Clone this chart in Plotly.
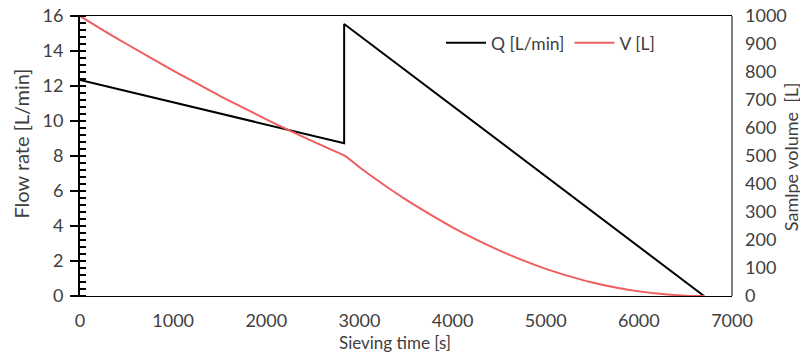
import plotly.graph_objects as go

# Flow rate Q [L/min]
q_time = [0, 2836, 2836, 6700]
q_flow = [12.34, 8.73, 15.54, 0]

# Sample volume V [L]
v_time = [0, 250, 500, 750, 1000, 1250, 1500, 1750, 2000, 2250, 2500, 2750, 2836,
          3000, 3250, 3500, 3750, 4000, 4250, 4500, 4750, 5000, 5250, 5500, 5750,
          6000, 6250, 6500, 6700]
v_vol = [1000, 949, 900, 852, 805, 760, 715, 673, 631, 591, 552, 515, 502,
         460, 400, 344, 293, 245, 202, 163, 128, 97, 71, 48, 30,
         16.5, 6.8, 1.3, 0]

x_ticks = [0, 1000, 2000, 3000, 4000, 5000, 6000, 7000]
y_ticks = [0, 2, 4, 6, 8, 10, 12, 14, 16]
y2_ticks = [0, 100, 200, 300, 400, 500, 600, 700, 800, 900, 1000]

FONT = "Lato"
TXT = "#404040"

fig = go.Figure()
fig.add_trace(go.Scatter(x=q_time, y=q_flow, mode="lines", name="Q [L/min]",
                         line=dict(color="#000000", width=2)))
fig.add_trace(go.Scatter(x=v_time, y=v_vol, mode="lines", name="V [L]", yaxis="y2",
                         line=dict(color="#EE5E5E", width=2, shape="spline")))

# the page body adds an 8 px offset; keep the page inside the window
fig.update_layout(
    width=792, height=344,
    margin=dict(l=72, r=68, t=8, b=56),
    paper_bgcolor="white", plot_bgcolor="white",
    font=dict(family=FONT, size=18, color=TXT),
    showlegend=True,
    legend=dict(orientation="h", x=0.5537, y=0.9036, xanchor="left", yanchor="middle",
                bgcolor="rgba(0,0,0,0)", font=dict(size=17.5, color=TXT),
                itemwidth=40, tracegroupgap=0),
    xaxis=dict(range=[0, 7000], tickvals=x_ticks, ticks="", showgrid=False,
               zeroline=False, showline=True, linecolor="black", linewidth=1,
               mirror=True, ticklabelstandoff=8, automargin=False,
               ticklabeloverflow="allow"),
    yaxis=dict(range=[0, 16], tickvals=y_ticks, ticks="outside", ticklen=8,
               tickcolor="black", tickwidth=2, showgrid=False, zeroline=False,
               showline=True, linecolor="black", linewidth=2, mirror=False,
               ticklabelstandoff=3, automargin=False, ticklabeloverflow="allow",
               minor=dict(dtick=0.4, ticks="inside", ticklen=6, tickcolor="black",
                          tickwidth=2, showgrid=False)),
    yaxis2=dict(range=[0, 1000], tickvals=y2_ticks, overlaying="y", side="right",
                ticks="", showgrid=False, zeroline=False, showline=False,
                ticklabelstandoff=12, automargin=False, ticklabeloverflow="allow"),
    shapes=[
        dict(type="line", xref="paper", yref="paper", x0=1, x1=1, y0=0, y1=1,
             line=dict(color="black", width=1)),
    ],
    annotations=[
        dict(text="Sieving time [s]", xref="paper", yref="paper", x=0.4831, y=-0.1643,
             xanchor="center", yanchor="middle", showarrow=False, font=dict(size=17)),
        dict(text="Flow rate [L/min]", xref="paper", yref="paper", x=-0.092, y=0.5446,
             xanchor="center", yanchor="middle", textangle=-90, showarrow=False,
             font=dict(size=20)),
        dict(text="Samlpe volume  [L]", xref="paper", yref="paper", x=1.0905, y=0.496,
             xanchor="center", yanchor="middle", textangle=-90, showarrow=False,
             font=dict(size=18)),
    ],
)

fig.write_html("out.html")
